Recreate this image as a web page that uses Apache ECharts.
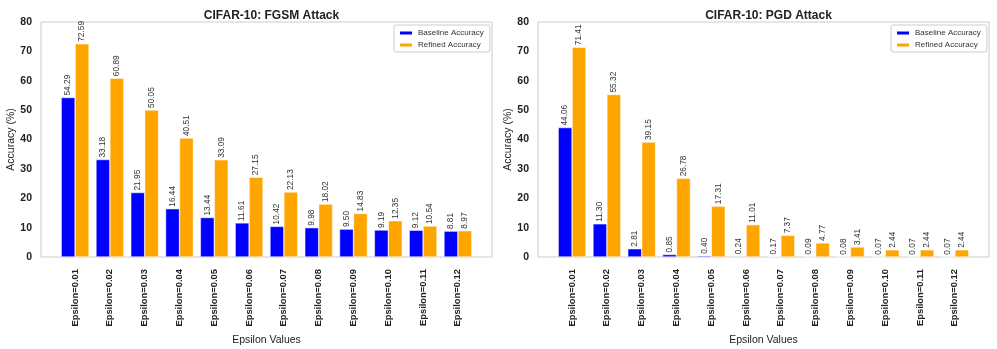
<!DOCTYPE html>
<html>
<head>
<meta charset="utf-8">
<script src="https://cdn.jsdelivr.net/npm/echarts@6/dist/echarts.min.js"></script>
<style>
  html, body { margin: 0; padding: 0; background: #fff; }
  #main { width: 997px; height: 349px; }
</style>
</head>
<body>
<div id="main"></div>
<script>
// 数据
var epsilonLabels = ['Epsilon=0.01', 'Epsilon=0.02', 'Epsilon=0.03', 'Epsilon=0.04', 'Epsilon=0.05', 'Epsilon=0.06',
    'Epsilon=0.07', 'Epsilon=0.08', 'Epsilon=0.09', 'Epsilon=0.10', 'Epsilon=0.11', 'Epsilon=0.12'];
var fgsmBaseline = [54.29, 33.18, 21.95, 16.44, 13.44, 11.61, 10.42, 9.98, 9.50, 9.19, 9.12, 8.81];
var fgsmRefined = [72.59, 60.89, 50.05, 40.51, 33.09, 27.15, 22.13, 18.02, 14.83, 12.35, 10.54, 8.97];
var pgdBaseline = [44.06, 11.30, 2.81, 0.85, 0.40, 0.24, 0.17, 0.09, 0.08, 0.07, 0.07, 0.07];
var pgdRefined = [71.41, 55.32, 39.15, 26.78, 17.31, 11.01, 7.37, 4.77, 3.41, 2.44, 2.44, 2.44];
var yTicks = [0, 10, 20, 30, 40, 50, 60, 70, 80];

var font = 'Liberation Sans, Arial, sans-serif';
var blue = '#0000ff';
var orange = '#ffa500';

// 外框 + 数据区
var frameLeft = [41, 538];
var frameWidth = 451;
var dataWidth = 417.6;
var gridTop = 22;
var gridHeight = 235;

function barLabel() {
    return {
        show: true,
        position: 'top',
        rotate: 90,
        align: 'left',
        verticalAlign: 'middle',
        distance: 2,
        fontFamily: font,
        fontSize: 8.3,
        color: '#333',
        formatter: function (p) { return p.value.toFixed(2); }
    };
}

var grids = [], xAxes = [], yAxes = [], series = [], titles = [], legends = [];
for (var i = 0; i < 2; i++) {
    // 外框
    grids.push({ left: frameLeft[i], top: gridTop, width: frameWidth, height: gridHeight,
        outerBoundsMode: 'none',
        show: true, borderColor: '#cccccc', borderWidth: 1, backgroundColor: 'transparent' });
    // 数据区
    grids.push({ left: frameLeft[i] + (frameWidth - dataWidth) / 2, top: gridTop, width: dataWidth, height: gridHeight,
        outerBoundsMode: 'none' });

    xAxes.push({ gridIndex: i * 2, type: 'value', show: false });
    yAxes.push({
        gridIndex: i * 2, type: 'value', min: yTicks[0], max: yTicks[yTicks.length - 1], interval: 10,
        name: 'Accuracy (%)', nameLocation: 'middle', nameGap: 22,
        nameTextStyle: { fontFamily: font, fontSize: 10.5, color: '#222' },
        axisLine: { show: false }, axisTick: { show: false }, splitLine: { show: false },
        axisLabel: { fontFamily: font, fontSize: 10.5, fontWeight: 'bold', color: '#222', margin: 9 }
    });

    xAxes.push({
        gridIndex: i * 2 + 1, type: 'category', data: epsilonLabels,
        name: 'Epsilon Values', nameLocation: 'middle', nameGap: 75,
        nameTextStyle: { fontFamily: font, fontSize: 10.5, color: '#222' },
        axisLine: { show: false }, axisTick: { show: false },
        axisLabel: { rotate: 90, fontFamily: font, fontSize: 9.4, fontWeight: 'bold', color: '#222', margin: 12, interval: 0 }
    });
    yAxes.push({ gridIndex: i * 2 + 1, type: 'value', min: 0, max: 80, show: false });

    titles.push({
        text: i == 0 ? 'CIFAR-10: FGSM Attack' : 'CIFAR-10: PGD Attack',
        left: frameLeft[i] + frameWidth / 2, top: 5, textAlign: 'center',
        textStyle: { fontFamily: font, fontSize: 12, fontWeight: 'bold', color: '#222' }
    });

    legends.push({
        data: ['Baseline Accuracy', 'Refined Accuracy'],
        orient: 'vertical',
        left: frameLeft[i] + 353, top: 25,
        borderColor: '#cccccc', borderWidth: 1, borderRadius: 2,
        padding: [4, 6, 3, 4],
        itemWidth: 14, itemHeight: 5, itemGap: 4,
        icon: 'rect',
        textStyle: { fontFamily: font, fontSize: 8, color: '#333' }
    });
}

var baseData = [fgsmBaseline, pgdBaseline];
var refData = [fgsmRefined, pgdRefined];
for (var k = 0; k < 2; k++) {
    series.push({
        name: 'Baseline Accuracy', type: 'bar',
        xAxisIndex: k * 2 + 1, yAxisIndex: k * 2 + 1,
        data: baseData[k], barGap: '0%', barCategoryGap: '20%',
        itemStyle: { color: blue, borderColor: '#fff', borderWidth: 0.5 },
        label: barLabel()
    });
    series.push({
        name: 'Refined Accuracy', type: 'bar',
        xAxisIndex: k * 2 + 1, yAxisIndex: k * 2 + 1,
        data: refData[k], barGap: '0%', barCategoryGap: '20%',
        itemStyle: { color: orange, borderColor: '#fff', borderWidth: 0.5 },
        label: barLabel()
    });
}

var myChart = echarts.init(document.getElementById('main'));
var option = {
    animation: false,
    backgroundColor: '#fff',
    title: titles,
    legend: legends,
    grid: grids,
    xAxis: xAxes,
    yAxis: yAxes,
    series: series
};
myChart.setOption(option);
</script>
</body>
</html>
